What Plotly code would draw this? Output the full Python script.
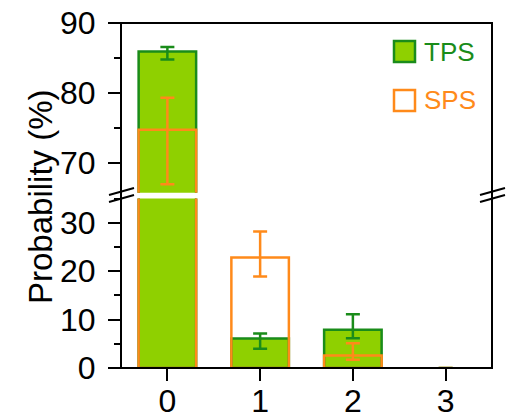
import plotly.graph_objects as go
from plotly.subplots import make_subplots

categories = [0, 1, 2, 3]
tps = [85.9, 6.1, 7.9, 0.0]
tps_err_plus = [0.65, 1.0, 3.2, None]
tps_err_minus = [1.15, 2.1, 1.75, None]
sps = [74.7, 22.8, 2.6, 0.0]
sps_err_plus = [4.6, 5.4, 2.5, None]
sps_err_minus = [7.8, 3.9, 0.9, None]
x_ticks = [0, 1, 2, 3]
lower_ticks = [0, 10, 20, 30]
upper_ticks = [70, 80, 90]

GREEN_FILL = "#8fd000"
GREEN_LINE = "#1a8c1a"
ORANGE = "#ff8a1a"
FONT = "Liberation Sans, Arial, sans-serif"

fig = make_subplots(rows=2, cols=1, shared_xaxes=True, vertical_spacing=0.0)

# no outline for empty (zero-height) bars
edge_w = [2.5 if v > 0 else 0 for v in tps]
edge_w_s = [2.5 if v > 0 else 0 for v in sps]

for row in (1, 2):
    fig.add_trace(go.Bar(
        x=categories, y=tps, width=0.62, name="TPS",
        marker=dict(color=GREEN_FILL, line=dict(color=GREEN_LINE, width=edge_w)),
        error_y=dict(type="data", symmetric=False, array=tps_err_plus,
                     arrayminus=tps_err_minus, color=GREEN_LINE,
                     thickness=2.5, width=7),
        showlegend=False), row=row, col=1)
    fig.add_trace(go.Bar(
        x=categories, y=sps, width=0.62, name="SPS",
        marker=dict(color="rgba(0,0,0,0)", line=dict(color=ORANGE, width=edge_w_s)),
        error_y=dict(type="data", symmetric=False, array=sps_err_plus,
                     arrayminus=sps_err_minus, color=ORANGE,
                     thickness=2.5, width=7),
        showlegend=False), row=row, col=1)

L, R, T, B = 121, 18, 23, 50
W, H = 510, 418
pw, ph = W - L - R, H - T - B

def px_x(p):
    return (p - L) / pw

def px_y(p):
    return (H - B - p) / ph

lower_top = px_y(198.5)
upper_bot = px_y(192.7)

fig.update_layout(
    width=W, height=H,
    margin=dict(l=L, r=R, t=T, b=B, autoexpand=False),
    paper_bgcolor="white", plot_bgcolor="white",
    barmode="overlay",
    font=dict(family=FONT, size=32, color="black"),
    showlegend=False,
)

axis_common = dict(showgrid=False, zeroline=False, showline=False, automargin=False,
                   ticks="outside", ticklen=12, tickwidth=2, tickcolor="black",
                   tickfont=dict(family=FONT, size=32, color="black"))

fig.update_xaxes(range=[-0.5, 3.5], **axis_common)
fig.update_xaxes(tickvals=x_ticks, ticktext=[str(v) for v in x_ticks],
                 ticklabelstandoff=-7, row=2, col=1)
fig.update_xaxes(showticklabels=False, ticks="", row=1, col=1)

fig.update_yaxes(domain=[upper_bot, 1], range=[90 - 170.3 / 7, 90],
                 tickvals=upper_ticks, ticklabelstandoff=6,
                 minor=dict(tickvals=[75, 85], ticklen=6, tickwidth=2,
                            tickcolor="black", ticks="outside"),
                 row=1, col=1, **axis_common)
fig.update_yaxes(domain=[0, lower_top], range=[0, 35],
                 tickvals=lower_ticks, ticklabelstandoff=6,
                 minor=dict(tickvals=[5, 15, 25, 35], ticklen=6, tickwidth=2,
                            tickcolor="black", ticks="outside"),
                 row=2, col=1, **axis_common)

shapes = [dict(type="rect", xref="paper", yref="paper", x0=0, x1=1, y0=0, y1=1,
               line=dict(color="black", width=2), fillcolor="rgba(0,0,0,0)")]
# axis break marks
for cx in (L, L + pw):
    for dy in (0, 7):
        shapes.append(dict(type="line", xref="paper", yref="paper",
                           x0=px_x(cx - 12), y0=px_y(195 + dy),
                           x1=px_x(cx + 13), y1=px_y(188 + dy),
                           line=dict(color="black", width=2)))
# legend boxes
shapes.append(dict(type="rect", xref="paper", yref="paper",
                   x0=px_x(394), x1=px_x(415), y0=px_y(62), y1=px_y(41),
                   fillcolor=GREEN_FILL, line=dict(color=GREEN_LINE, width=2.5)))
shapes.append(dict(type="rect", xref="paper", yref="paper",
                   x0=px_x(394), x1=px_x(415), y0=px_y(111), y1=px_y(90),
                   fillcolor="white", line=dict(color=ORANGE, width=2.5)))
fig.update_layout(shapes=shapes)

fig.add_annotation(xref="paper", yref="paper", x=px_x(422), y=px_y(52),
                   text="TPS", showarrow=False, xanchor="left", yanchor="middle",
                   font=dict(family=FONT, size=26, color=GREEN_LINE))
fig.add_annotation(xref="paper", yref="paper", x=px_x(422), y=px_y(100),
                   text="SPS", showarrow=False, xanchor="left", yanchor="middle",
                   font=dict(family=FONT, size=26, color=ORANGE))
fig.add_annotation(xref="paper", yref="paper", x=px_x(40), y=px_y(197),
                   text="Probability (%)", textangle=-90, showarrow=False,
                   xanchor="center", yanchor="middle",
                   font=dict(family=FONT, size=33, color="black"))

fig.write_html("out.html")
